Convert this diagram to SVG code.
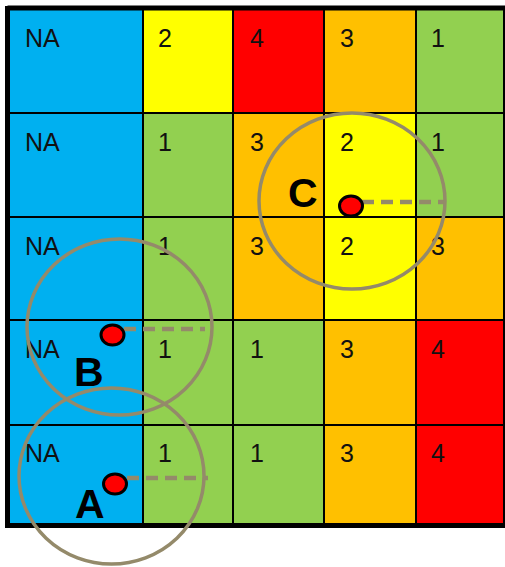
<svg xmlns="http://www.w3.org/2000/svg" width="505" height="567" viewBox="0 0 505 567">
<style>
.b{fill:#00B0F0}.y{fill:#FFFF00}.r{fill:#FF0000}.o{fill:#FFC000}.g{fill:#92D050}
.t{font-family:"Liberation Sans",Arial,sans-serif;font-size:25px;fill:#111}
.L{font-family:"Liberation Sans",Arial,sans-serif;font-size:41px;font-weight:bold;fill:#000}
.ring{fill:none;stroke:#948A6A;stroke-width:3.5}
.dash{stroke:#948A6A;stroke-width:4.5;stroke-dasharray:12 7;fill:none}
.dot{fill:#FF0000;stroke:#000;stroke-width:3}
.grid{stroke:#000;stroke-width:2;fill:none}
</style>
<rect width="505" height="567" fill="#fff"/>
<g id="cells">
<rect class="b" x="7" y="8" width="136" height="105"/><rect class="y" x="143" y="8" width="90" height="105"/><rect class="r" x="233" y="8" width="91" height="105"/><rect class="o" x="324" y="8" width="92" height="105"/><rect class="g" x="416" y="8" width="88" height="105"/>
<rect class="b" x="7" y="113" width="136" height="104"/><rect class="g" x="143" y="113" width="90" height="104"/><rect class="o" x="233" y="113" width="91" height="104"/><rect class="y" x="324" y="113" width="92" height="104"/><rect class="g" x="416" y="113" width="88" height="104"/>
<rect class="b" x="7" y="217" width="136" height="103"/><rect class="g" x="143" y="217" width="90" height="103"/><rect class="o" x="233" y="217" width="91" height="103"/><rect class="y" x="324" y="217" width="92" height="103"/><rect class="o" x="416" y="217" width="88" height="103"/>
<rect class="b" x="7" y="320" width="136" height="105"/><rect class="g" x="143" y="320" width="90" height="105"/><rect class="g" x="233" y="320" width="91" height="105"/><rect class="o" x="324" y="320" width="92" height="105"/><rect class="r" x="416" y="320" width="88" height="105"/>
<rect class="b" x="7" y="425" width="136" height="100"/><rect class="g" x="143" y="425" width="90" height="100"/><rect class="g" x="233" y="425" width="91" height="100"/><rect class="o" x="324" y="425" width="92" height="100"/><rect class="r" x="416" y="425" width="88" height="100"/>
</g>
<g id="gridlines">
<path class="grid" d="M143 8V525M233 8V525M324 8V525M416 8V525M504 8V525M7 113H504M7 217H504M7 320H504M7 425H504"/>
<path d="M7.5 8H505M7.5 6V527M5 525.5H505" stroke="#000" stroke-width="5" fill="none"/>
</g>
<g id="values">
<text class="t" x="25" y="47">NA</text><text class="t" x="158" y="47">2</text><text class="t" x="250" y="47">4</text><text class="t" x="340" y="47">3</text><text class="t" x="431" y="47">1</text>
<text class="t" x="25" y="151">NA</text><text class="t" x="158" y="151">1</text><text class="t" x="250" y="151">3</text><text class="t" x="340" y="151">2</text><text class="t" x="431" y="151">1</text>
<text class="t" x="25" y="255">NA</text><text class="t" x="158" y="255">1</text><text class="t" x="250" y="255">3</text><text class="t" x="340" y="255">2</text><text class="t" x="431" y="255">3</text>
<text class="t" x="25" y="358">NA</text><text class="t" x="158" y="358">1</text><text class="t" x="250" y="358">1</text><text class="t" x="340" y="358">3</text><text class="t" x="431" y="358">4</text>
<text class="t" x="25" y="462">NA</text><text class="t" x="158" y="462">1</text><text class="t" x="250" y="462">1</text><text class="t" x="340" y="462">3</text><text class="t" x="431" y="462">4</text>
</g>
<g id="connectors">
<path class="dash" d="M362 202H445"/>
<path class="dash" d="M124 329H205"/>
<path class="dash" d="M127 478H208"/>
</g>
<g id="pointC">
<ellipse class="ring" cx="352" cy="201" rx="93" ry="88"/>
<ellipse class="dot" cx="351" cy="206" rx="11.5" ry="10"/>
<text class="L" x="288" y="207">C</text>
</g>
<g id="pointB">
<ellipse class="ring" cx="119.5" cy="327" rx="92.5" ry="88"/>
<ellipse class="dot" cx="112.5" cy="335" rx="11.5" ry="10"/>
<text class="L" x="74" y="386">B</text>
</g>
<g id="pointA">
<ellipse class="ring" cx="111.5" cy="476" rx="92.5" ry="88"/>
<ellipse class="dot" cx="115" cy="484" rx="11.5" ry="10"/>
<text class="L" x="75" y="518">A</text>
</g>
</svg>
